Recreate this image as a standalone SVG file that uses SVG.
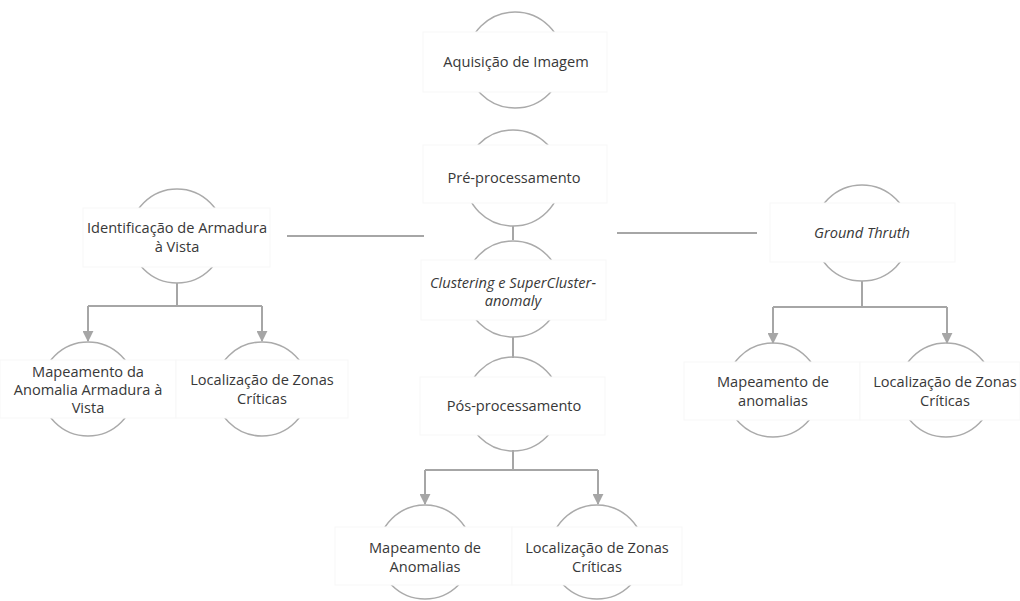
<svg xmlns="http://www.w3.org/2000/svg" width="1020" height="601" viewBox="0 0 1020 601">
<defs>
<style>
.ring{fill:none;stroke:#aaaaaa;stroke-width:1.5}
.box{fill:#ffffff;stroke:#f7f7f7;stroke-width:1}
.lbl{font-family:"Open Sans","Noto Sans",sans-serif;font-size:14.6px;fill:#383838;text-anchor:middle}
.it{font-style:italic}
.con{fill:none;stroke:#a6a6a6;stroke-width:2}
</style>
<marker id="ah" viewBox="0 0 12 12" refX="11" refY="6" markerWidth="11" markerHeight="11" orient="auto" markerUnits="userSpaceOnUse">
<path d="M0,0 L12,6 L0,12 z" fill="#a6a6a6"/>
</marker>
</defs>
<rect width="1020" height="601" fill="#ffffff"/>
<g id="connectors">
<line class="con" x1="513" y1="226" x2="513" y2="240"/>
<line class="con" x1="513" y1="337" x2="513" y2="358"/>
<line class="con" x1="287" y1="236" x2="424" y2="236"/>
<line class="con" x1="617" y1="233" x2="757" y2="233"/>
<path class="con" d="M177,283 V306 M88,306 H262"/>
<path class="con" d="M88,306 V341" marker-end="url(#ah)"/>
<path class="con" d="M262,306 V341" marker-end="url(#ah)"/>
<path class="con" d="M513,450 V470 M425,470 H598"/>
<path class="con" d="M425,470 V504" marker-end="url(#ah)"/>
<path class="con" d="M598,470 V504" marker-end="url(#ah)"/>
<path class="con" d="M862,281 V307 M773,307 H947"/>
<path class="con" d="M773,307 V343" marker-end="url(#ah)"/>
<path class="con" d="M947,307 V343" marker-end="url(#ah)"/>
</g>
<g id="n-aquisicao">
<circle class="ring" cx="515" cy="60" r="48"/>
<rect class="box" x="423" y="32" width="184" height="60"/>
<text class="lbl" x="516" y="67">Aquisição de Imagem</text>
</g>
<g id="n-pre">
<circle class="ring" cx="513" cy="178" r="48"/>
<rect class="box" x="423" y="145" width="184" height="58"/>
<text class="lbl" x="514" y="183">Pré-processamento</text>
</g>
<g id="n-clustering">
<circle class="ring" cx="513" cy="289" r="48"/>
<rect class="box" x="421" y="260" width="185" height="60"/>
<text class="lbl it" x="513" y="288">Clustering e SuperCluster-</text>
<text class="lbl it" x="513" y="306">anomaly</text>
</g>
<g id="n-pos">
<circle class="ring" cx="513" cy="404" r="47"/>
<rect class="box" x="420" y="377" width="185" height="58"/>
<text class="lbl" x="514" y="411">Pós-processamento</text>
</g>
<g id="n-identificacao">
<circle class="ring" cx="177" cy="236" r="47"/>
<rect class="box" x="83" y="208" width="187" height="59"/>
<text class="lbl" x="177" y="233">Identificação de Armadura</text>
<text class="lbl" x="177" y="252">à Vista</text>
</g>
<g id="n-ground">
<circle class="ring" cx="862" cy="233" r="48"/>
<rect class="box" x="770" y="203" width="185" height="59"/>
<text class="lbl it" x="862" y="238">Ground Thruth</text>
</g>
<g id="n-map-armadura">
<circle class="ring" cx="88" cy="389" r="47"/>
<rect class="box" x="0" y="360" width="176" height="58"/>
<text class="lbl" x="88" y="377">Mapeamento da</text>
<text class="lbl" x="88" y="395">Anomalia Armadura à</text>
<text class="lbl" x="88" y="413">Vista</text>
</g>
<g id="n-loc-left">
<circle class="ring" cx="262" cy="389" r="47"/>
<rect class="box" x="176" y="360" width="172" height="58"/>
<text class="lbl" x="262" y="385">Localização de Zonas</text>
<text class="lbl" x="262" y="404">Críticas</text>
</g>
<g id="n-map-anomalias-bottom">
<circle class="ring" cx="425" cy="552" r="47"/>
<rect class="box" x="335" y="527" width="177" height="58"/>
<text class="lbl" x="425" y="553">Mapeamento de</text>
<text class="lbl" x="425" y="572">Anomalias</text>
</g>
<g id="n-loc-bottom">
<circle class="ring" cx="597" cy="552" r="47"/>
<rect class="box" x="512" y="527" width="170" height="58"/>
<text class="lbl" x="597" y="553">Localização de Zonas</text>
<text class="lbl" x="597" y="572">Críticas</text>
</g>
<g id="n-map-anomalias-right">
<circle class="ring" cx="773" cy="390" r="47"/>
<rect class="box" x="684" y="362" width="176" height="58"/>
<text class="lbl" x="773" y="387">Mapeamento de</text>
<text class="lbl" x="773" y="406">anomalias</text>
</g>
<g id="n-loc-right">
<circle class="ring" cx="946" cy="390" r="47"/>
<rect class="box" x="860" y="362" width="160" height="58"/>
<text class="lbl" x="945" y="387">Localização de Zonas</text>
<text class="lbl" x="945" y="406">Críticas</text>
</g>
</svg>
